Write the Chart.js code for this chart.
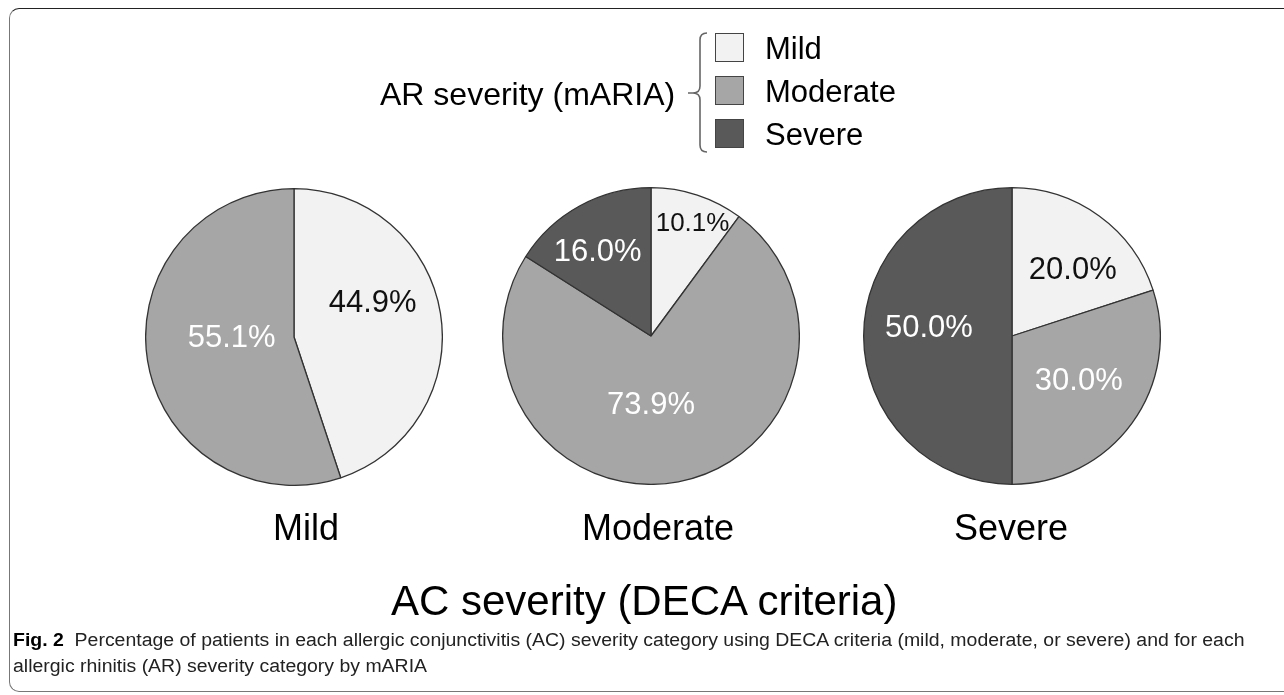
<!DOCTYPE html>
<html><head><meta charset="utf-8">
<script src="https://cdn.jsdelivr.net/npm/chart.js@4"></script>
<style>
html,body{margin:0;padding:0;background:#fff;}
#wrap{position:relative;width:1284px;height:695px;overflow:hidden;font-family:"Liberation Sans",Arial,sans-serif;color:#000;}
.abs{position:absolute;white-space:nowrap;line-height:1;}
#frame{position:absolute;left:9px;top:8px;width:1300px;height:684px;border-top:1.5px solid #222;border-left:1.5px solid #777;border-bottom:1.5px solid #777;border-radius:10px 0 0 10px;box-sizing:border-box;}
canvas.pie{position:absolute;}
.cap{position:absolute;white-space:nowrap;font-family:"Liberation Sans",Arial,sans-serif;font-size:18px;line-height:1;transform-origin:0 0;color:#222;}
.box{position:absolute;width:29px;height:29px;box-sizing:border-box;border:1.5px solid #444;}
</style></head><body>
<div id="wrap">
  <div id="frame"></div>
  <canvas class="pie" id="pie0" width="298" height="298" style="left:145px;top:188px"></canvas>
  <canvas class="pie" id="pie1" width="298" height="298" style="left:502px;top:187px"></canvas>
  <canvas class="pie" id="pie2" width="298" height="298" style="left:863px;top:187px"></canvas>
  <svg class="abs" style="left:0;top:0" width="1284" height="695">
    <path d="M707 33 Q700 33 700 40 L700 86 Q700 93 693 93 L688 93 M693 93 Q700 93 700 100 L700 145 Q700 152 707 152" fill="none" stroke="#666" stroke-width="1.6"/>
  </svg>
</div>
<script>
// ---- data ----
const arSeverity = ['Mild', 'Moderate', 'Severe'];           // slice categories (AR severity, mARIA)
const acCategories = ['Mild', 'Moderate', 'Severe'];         // one pie per AC severity (DECA)
const pctMildAC = [44.9, 55.1, 0];
const pctModerateAC = [10.1, 73.9, 16.0];
const pctSevereAC = [20.0, 30.0, 50.0];
const legendTitle = 'AR severity (mARIA)';
const axisTitle = 'AC severity (DECA criteria)';
const captionBold = 'Fig. 2';
const captionLine1 = 'Percentage of patients in each allergic conjunctivitis (AC) severity category using DECA criteria (mild, moderate, or severe) and for each';
const captionLine2 = 'allergic rhinitis (AR) severity category by mARIA';

// ---- styles ----
const sliceColors = ['#f2f2f2', '#a6a6a6', '#595959'];
const labelColors = ['#111', '#fff', '#fff'];
const FONT = '"Liberation Sans", Arial, sans-serif';

const wrap = document.getElementById('wrap');
function addText(txt, left, capMid, size, align) {
  const d = document.createElement('div');
  d.className = 'abs';
  d.textContent = txt;
  d.style.fontSize = size + 'px';
  d.style.top = (capMid - 0.49 * size) + 'px';
  wrap.appendChild(d);
  if (align === 'center') d.style.left = (left - d.offsetWidth / 2) + 'px';
  else d.style.left = left + 'px';
  return d;
}

// legend
addText(legendTitle, 380, 94, 32);
arSeverity.forEach((name, i) => {
  const top = 33 + i * 43;
  const b = document.createElement('div');
  b.className = 'box';
  b.style.left = '715px'; b.style.top = top + 'px';
  b.style.background = sliceColors[i];
  wrap.appendChild(b);
  addText(name, 765, top + 15, 31);
});

// pie labels
const labelLayouts = [
  { pos: [[0.53, -0.24], [-0.42, -0.01], [0, 0]], sizes: [31, 31, 31] },
  { pos: [[0.28, -0.77], [0.0, 0.45], [-0.36, -0.58]], sizes: [26, 31, 31] },
  { pos: [[0.41, -0.46], [0.45, 0.29], [-0.56, -0.07]], sizes: [31, 31, 31] }
];
const valueLabels = {
  id: 'valueLabels',
  afterDatasetsDraw(chart, args, opts) {
    const ctx = chart.ctx;
    const meta = chart.getDatasetMeta(0);
    const ds = chart.data.datasets[0];
    meta.data.forEach((arc, i) => {
      const v = ds.data[i];
      if (!v) return;
      const p = opts.pos[i];
      const r = arc.outerRadius;
      const s = opts.sizes[i];
      ctx.save();
      ctx.font = s + 'px ' + FONT;
      ctx.fillStyle = labelColors[i];
      ctx.textAlign = 'center';
      ctx.textBaseline = 'alphabetic';
      ctx.fillText(v.toFixed(1) + '%', arc.x + p[0] * r, arc.y + p[1] * r + 0.358 * s);
      ctx.restore();
    });
  }
};

const series = [pctMildAC, pctModerateAC, pctSevereAC];
series.forEach((vals, k) => {
  new Chart(document.getElementById('pie' + k), {
    type: 'pie',
    data: {
      labels: arSeverity,
      datasets: [{ data: vals, backgroundColor: sliceColors, borderColor: '#333', borderWidth: 1.3 }]
    },
    options: {
      responsive: false,
      animation: false,
      events: [],
      layout: { padding: 0 },
      plugins: { legend: { display: false }, tooltip: { enabled: false }, valueLabels: labelLayouts[k] }
    },
    plugins: [valueLabels]
  });
});

// category labels under pies
const catCenters = [306, 658, 1011];
acCategories.forEach((c, i) => addText(c, catCenters[i], 528, 36, 'center'));
addText(axisTitle, 644, 601, 42, 'center');

// caption (condensed horizontally to match the journal caption font)
function makeCaption(parts, left, capMid) {
  const d = document.createElement('div');
  d.className = 'cap';
  parts.forEach(p => {
    const s = document.createElement('span');
    s.textContent = p.t;
    if (p.b) { s.style.fontWeight = 'bold'; s.style.color = '#000'; }
    d.appendChild(s);
  });
  d.style.left = left + 'px';
  d.style.top = (capMid - 0.49 * 18) + 'px';
  wrap.appendChild(d);
  return d;
}
const c1 = makeCaption([{ t: captionBold, b: true }, { t: '\u00a0\u00a0' + captionLine1 }], 13, 640);
const c2 = makeCaption([{ t: captionLine2 }], 13, 666);
const k = 1232 / c1.offsetWidth;
c1.style.transform = 'scaleX(' + k + ')';
c2.style.transform = 'scaleX(' + k + ')';
</script>
</body></html>
